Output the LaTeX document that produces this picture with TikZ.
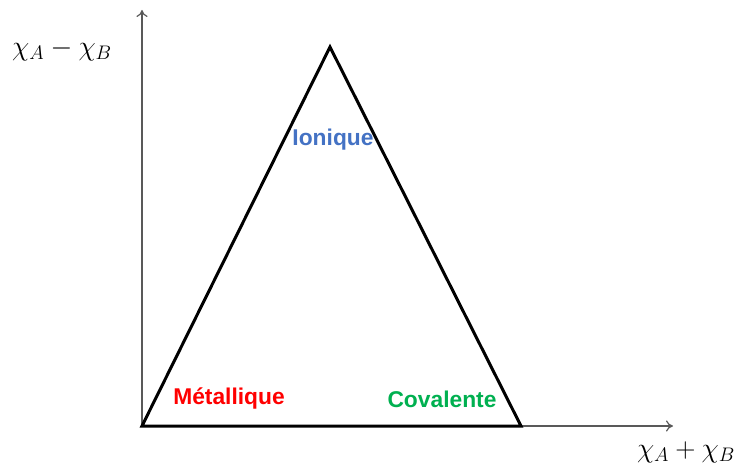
\documentclass[tikz,border=0pt]{standalone}
\usepackage{fix-cm}
\usepackage{fontspec}
\setmainfont{Liberation Sans}
\usetikzlibrary{arrows.meta}
\definecolor{ionblue}{HTML}{4472C4}
\definecolor{metred}{HTML}{FF0000}
\definecolor{covgreen}{HTML}{00B050}
\definecolor{axisgray}{HTML}{595959}
\tikzset{
  axisline/.style={draw=axisgray, line width=1.2pt, -{To[length=7pt,width=11pt]}},
  triline/.style={draw=black, line width=3pt, line join=miter},
  lbl/.style={font=\fontsize{22.8}{26}\selectfont\bfseries, inner sep=0pt},
  mathlbl/.style={font=\fontsize{28}{32}\selectfont, inner sep=0pt}
}
\begin{document}
\begin{tikzpicture}[x=1pt,y=-1pt]
\useasboundingbox (0,0) rectangle (739,465);
\coordinate (O) at (142,426);
\coordinate (Ytop) at (142,10);
\coordinate (Xend) at (673,426);
\coordinate (L) at (142,426);
\coordinate (T) at (330,47);
\coordinate (R) at (521,426);
\draw[axisline] (O) -- (Ytop);
\draw[axisline] (O) -- (Xend);
\draw[triline] (L) -- (T) -- (R) -- cycle;
\node[mathlbl] (ylab) at (62,50) {$\chi_A-\chi_B$};
\node[mathlbl] (xlab) at (686,452) {$\chi_A+\chi_B$};
\node[lbl, text=ionblue] (ion) at (333,140) {Ionique};
\node[lbl, text=metred] (met) at (229,399) {Métallique};
\node[lbl, text=covgreen] (cov) at (442,399) {Covalente};
\end{tikzpicture}
\end{document}
